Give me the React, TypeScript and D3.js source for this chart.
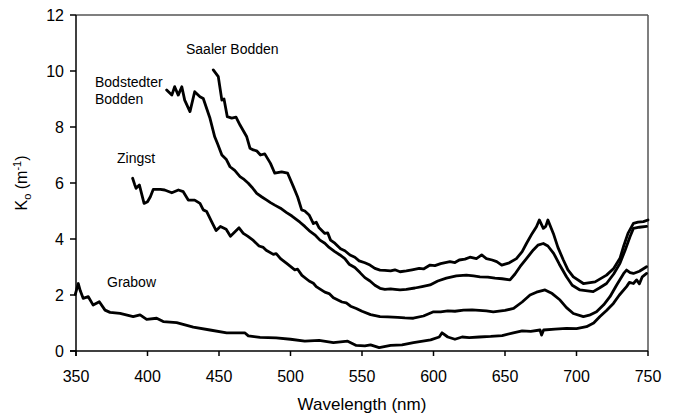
import React from "react";
import * as d3 from "d3";

type Pt = [number, number];

// Diffuse attenuation spectra, [wavelength nm, Ko m^-1]
const saalerBodden: Pt[] = [
  [446, 10.04], [449.5, 9.8], [452, 8.96], [453.5, 9.0], [455.8, 8.37], [458.9, 8.32],
  [461.9, 8.35], [464.7, 8.07], [469.4, 7.65], [471.7, 7.24], [474, 7.18], [476.3, 7.15],
  [479, 7.0], [482, 7.04], [486, 6.7], [489, 6.35], [493.8, 6.4], [498, 6.35], [502, 5.87],
  [505, 5.5], [507.8, 5.04], [510, 5.0], [513, 4.86], [516, 4.55], [518, 4.6], [520, 4.4],
  [524, 4.2], [526, 4.22], [528, 3.96], [531, 3.85], [535, 3.65], [538, 3.58], [541.6, 3.43],
  [545, 3.35], [548, 3.22], [552, 3.15], [555.6, 3.07], [559, 2.95], [562.6, 2.89],
  [566, 2.88], [570, 2.86], [573, 2.9], [576.6, 2.83], [581, 2.86], [585, 2.9], [590, 2.95],
  [593, 2.93], [597.6, 3.07], [601, 3.05], [605, 3.12], [611.5, 3.19], [615, 3.16], [618, 3.25],
  [622, 3.28], [625.5, 3.35], [630, 3.3], [633.7, 3.43], [637, 3.3], [641, 3.25], [644.2, 3.19],
  [647.7, 3.07], [653, 3.15], [658, 3.3], [662, 3.55], [665, 3.84], [669, 4.2], [672, 4.44],
  [674, 4.68], [676.8, 4.38], [678.5, 4.45], [680, 4.68], [683.8, 4.2], [687, 3.7],
  [690.8, 3.25], [694, 2.9], [697.8, 2.65], [704.8, 2.41], [713, 2.47], [721, 2.71],
  [726, 2.95], [730.4, 3.31], [733, 3.75], [736, 4.2], [739.8, 4.56], [743, 4.6],
  [746.8, 4.62], [750, 4.68],
];

const bodstedterBodden: Pt[] = [
  [413.4, 9.32], [417, 9.14], [419, 9.44], [421.5, 9.14], [424, 9.44], [426, 8.96],
  [429.7, 8.55], [433, 9.26], [436.7, 9.08], [439, 9.02], [442.5, 8.49], [443.7, 8.31],
  [447, 7.65], [449, 7.4], [452, 7.0], [455, 6.85], [457.7, 6.58], [461, 6.45],
  [464.7, 6.23], [467, 6.15], [470.5, 5.99], [473, 5.85], [476.4, 5.63], [480, 5.5],
  [483.4, 5.39], [486, 5.3], [489, 5.21], [493, 5.1], [497, 4.95], [501, 4.82],
  [506.6, 4.6], [510, 4.45], [513, 4.3], [517, 4.15], [520.6, 3.96], [524, 3.85],
  [527, 3.7], [531, 3.55], [534.6, 3.43], [538, 3.3], [541, 3.1], [545, 2.98],
  [548.6, 2.8], [552, 2.62], [555.6, 2.5], [559, 2.35], [562.6, 2.24], [566, 2.2],
  [570, 2.22], [573, 2.2], [576.6, 2.18], [581, 2.2], [587, 2.25], [592, 2.3],
  [597.6, 2.36], [603, 2.5], [609, 2.6], [616, 2.68], [623, 2.71], [628, 2.68],
  [632.5, 2.65], [638, 2.64], [643, 2.6], [648, 2.58], [653.5, 2.54], [657, 2.75],
  [660.5, 3.01], [665, 3.3], [669.8, 3.61], [673, 3.78], [676.8, 3.84], [680, 3.75],
  [684, 3.49], [688, 3.1], [693, 2.65], [697, 2.35], [702.4, 2.18], [711.7, 2.12],
  [716, 2.25], [721, 2.41], [726, 2.75], [730.4, 3.13], [734, 3.6], [737.4, 4.08],
  [739.8, 4.38], [744, 4.42], [749, 4.45],
];

const zingst: Pt[] = [
  [389.6, 6.17], [391, 5.95], [392, 5.81], [394.3, 5.93], [397.6, 5.27], [400, 5.33],
  [402, 5.51], [404, 5.77], [409, 5.77], [412, 5.75], [417, 5.65], [421.6, 5.75],
  [425, 5.69], [428.5, 5.39], [433, 5.39], [436.7, 5.27], [439, 5.04], [441.4, 4.98],
  [445, 4.6], [448, 4.3], [451, 4.45], [455, 4.35], [458, 4.1], [461, 4.25],
  [464, 4.4], [467, 4.2], [470, 4.1], [474, 3.95], [478, 3.75], [481, 3.7],
  [483, 3.6], [488, 3.45], [490, 3.48], [493, 3.3], [498, 3.1], [503, 2.9],
  [505, 2.92], [508, 2.7], [513, 2.5], [516, 2.42], [518, 2.3], [524, 2.1],
  [527, 2.05], [530, 1.9], [536, 1.75], [539, 1.72], [542, 1.6], [546, 1.52],
  [550, 1.42], [556, 1.3], [562.6, 1.23], [568, 1.22], [575, 1.2], [580, 1.18],
  [585.9, 1.17], [593, 1.25], [600, 1.4], [605, 1.4], [610, 1.43], [615, 1.42],
  [621, 1.46], [627, 1.47], [632, 1.45], [637, 1.43], [641.8, 1.4], [650, 1.45],
  [656, 1.52], [662, 1.75], [667.5, 2.0], [672, 2.1], [678, 2.18], [683, 2.05],
  [688.5, 1.82], [693, 1.55], [697.8, 1.34], [704.8, 1.23], [709, 1.28], [714, 1.4],
  [719, 1.65], [723.4, 1.94], [728, 2.35], [733, 2.77], [735, 2.89], [737.5, 2.8],
  [739.8, 2.77], [744, 2.85], [749, 3.01],
];

const grabow: Pt[] = [
  [349.5, 2.02], [351.6, 2.41], [353, 2.15], [355, 1.88], [358.6, 1.94], [362, 1.64],
  [366.3, 1.76], [370.3, 1.46], [373.8, 1.38], [380.8, 1.34], [390, 1.23], [394.8, 1.29],
  [399.4, 1.13], [406.4, 1.17], [411, 1.05], [420.4, 1.01], [432, 0.85], [443.7, 0.75],
  [455.4, 0.65], [468, 0.65], [470.5, 0.54], [478.7, 0.49], [490, 0.47], [500, 0.42],
  [510, 0.35], [520, 0.38], [530, 0.3], [540, 0.35], [546, 0.2], [552, 0.18],
  [556, 0.22], [562, 0.12], [570, 0.2], [578, 0.22], [586, 0.3], [598, 0.4],
  [604, 0.5], [606, 0.65], [610, 0.5], [615, 0.42], [620, 0.5], [625, 0.48],
  [632, 0.5], [640, 0.52], [648, 0.55], [655.8, 0.65], [662, 0.72], [668, 0.7],
  [674.5, 0.75], [675.6, 0.57], [677, 0.75], [685, 0.78], [693, 0.81], [700, 0.8],
  [707, 0.87], [712, 1.0], [716.4, 1.23], [721, 1.45], [725.8, 1.7], [730, 2.0],
  [735, 2.3], [737, 2.45], [739.8, 2.41], [742, 2.54], [744, 2.4], [746, 2.65],
  [749, 2.77],
];

const xTicks = [350, 400, 450, 500, 550, 600, 650, 700, 750];
const yTicks = [0, 2, 4, 6, 8, 10, 12];

const seriesList: Pt[][] = [saalerBodden, bodstedterBodden, zingst, grabow];

const W = 674;
const H = 415;
const left = 76;
const right = 648;
const top = 15;
const bottom = 351;
const FONT = "'Liberation Sans', Arial, sans-serif";

export default function App() {
  const x = d3.scaleLinear().domain([350, 750]).range([left, right]);
  const y = d3.scaleLinear().domain([0, 12]).range([bottom, top]);
  const line = d3
    .line<Pt>()
    .x((d) => x(d[0]))
    .y((d) => y(d[1]));

  return (
    <svg
      width={W}
      height={H}
      style={{ position: "absolute", left: 0, top: 0, background: "#fff" }}
      fontFamily={FONT}
    >
      {/* frame */}
      <line x1={left} x2={right} y1={top} y2={top} stroke="#555" strokeWidth={1.5} />
      <line x1={right} x2={right} y1={top} y2={bottom} stroke="#555" strokeWidth={1.5} />
      <line x1={left} x2={left} y1={top} y2={bottom + 5} stroke="#000" strokeWidth={1.5} />
      <line x1={left - 6} x2={right} y1={bottom} y2={bottom} stroke="#000" strokeWidth={1.5} />

      {/* y axis */}
      {yTicks.map((t) => (
        <g key={"y" + t}>
          <line x1={left - 6} x2={left} y1={y(t)} y2={y(t)} stroke="#000" strokeWidth={1.5} />
          <text x={64} y={y(t)} dy="0.36em" textAnchor="end" fontSize={16}>
            {t}
          </text>
        </g>
      ))}

      {/* x axis */}
      {xTicks.map((t) => (
        <g key={"x" + t}>
          <line x1={x(t)} x2={x(t)} y1={bottom} y2={bottom + 5} stroke="#000" strokeWidth={1.5} />
          <text x={x(t)} y={382} textAnchor="middle" fontSize={16}>
            {t}
          </text>
        </g>
      ))}

      <text x={(left + right) / 2} y={410} textAnchor="middle" fontSize={17}>
        Wavelength (nm)
      </text>

      <text
        transform={`translate(27, ${(top + bottom) / 2}) rotate(-90)`}
        textAnchor="middle"
        fontSize={16}
      >
        K
        <tspan fontSize={11} dy={4}>o</tspan>
        <tspan dy={-4}> (m</tspan>
        <tspan fontSize={11} dy={-6}>-1</tspan>
        <tspan dy={6}>)</tspan>
      </text>

      {/* spectra */}
      {seriesList.map((s, i) => (
        <path
          key={i}
          d={line(s) ?? ""}
          fill="none"
          stroke="#000"
          strokeWidth={2.8}
          strokeLinejoin="round"
          strokeLinecap="round"
        />
      ))}

      {/* series labels */}
      <g fontSize={14}>
        <text x={186} y={54}>Saaler Bodden</text>
        <text x={95} y={87}>Bodstedter</text>
        <text x={95} y={104}>Bodden</text>
        <text x={117} y={163}>Zingst</text>
        <text x={107} y={287}>Grabow</text>
      </g>
    </svg>
  );
}
